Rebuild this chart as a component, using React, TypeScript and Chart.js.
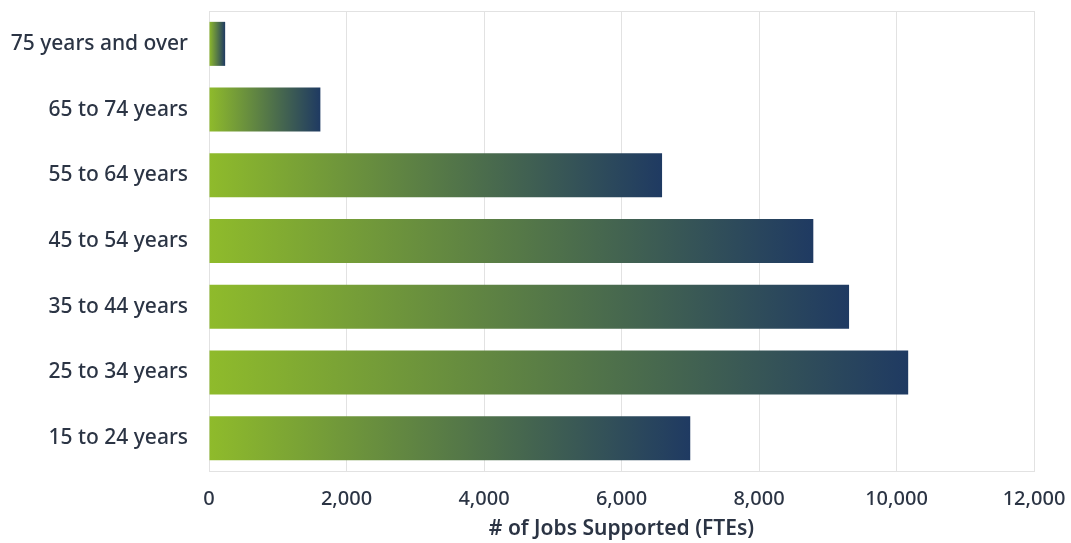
import React, { useEffect, useRef } from "react";
import { Chart, registerables } from "chart.js";

Chart.register(...registerables);

const ageGroups = [
  "75 years and over",
  "65 to 74 years",
  "55 to 64 years",
  "45 to 54 years",
  "35 to 44 years",
  "25 to 34 years",
  "15 to 24 years",
];
const jobsSupported = [235, 1620, 6590, 8790, 9310, 10170, 7000];
const xTickValues = [0, 2000, 4000, 6000, 8000, 10000, 12000];
const xAxisTitle = "# of Jobs Supported (FTEs)";

const GREEN = "#8fbb2b";
const NAVY = "#1f3a62";
const TEXT = "#2b3444";
const GRID = "#e2e2e2";
const FONT = "'Noto Sans', sans-serif";

const frame = {
  id: "frame",
  afterDraw(chart: any) {
    const { ctx, chartArea } = chart;
    ctx.save();
    ctx.strokeStyle = GRID;
    ctx.lineWidth = 1;
    ctx.beginPath();
    ctx.moveTo(chartArea.left, chartArea.top + 0.5);
    ctx.lineTo(chartArea.right, chartArea.top + 0.5);
    ctx.stroke();
    ctx.restore();
  },
};

export default function App() {
  const ref = useRef<HTMLCanvasElement>(null);
  useEffect(() => {
    if (!ref.current) return;
    const chart = new Chart(ref.current, {
      type: "bar",
      data: {
        labels: ageGroups,
        datasets: [
          {
            data: jobsSupported,
            barPercentage: 0.67,
            categoryPercentage: 1,
            backgroundColor: (c: any) => {
              const ch = c.chart;
              const xs = ch.scales?.x;
              if (!ch.chartArea || !xs) return GREEN;
              const x0 = xs.getPixelForValue(0);
              const x1 = xs.getPixelForValue(c.raw as number);
              const g = ch.ctx.createLinearGradient(x0, 0, Math.max(x1, x0 + 1), 0);
              g.addColorStop(0, GREEN);
              g.addColorStop(1, NAVY);
              return g;
            },
          },
        ],
      },
      options: {
        indexAxis: "y",
        animation: false,
        responsive: false,
        maintainAspectRatio: false,
        layout: { padding: 0 },
        plugins: { legend: { display: false }, tooltip: { enabled: false } },
        scales: {
          x: {
            min: 0,
            max: 12000,
            afterBuildTicks: (s: any) => {
              s.ticks = xTickValues.map((v) => ({ value: v }));
            },
            afterFit: (s: any) => {
              s.height = 72;
              s.paddingLeft = 0;
              s.paddingRight = 37;
            },
            grid: { color: GRID, drawTicks: false, lineWidth: 1 },
            border: { display: true, color: GRID },
            ticks: {
              color: TEXT,
              padding: 16,
              font: { family: FONT, size: 20, weight: "500" },
              callback: (v: any) => Number(v).toLocaleString("en-US"),
            },
            title: {
              display: true,
              text: xAxisTitle,
              color: TEXT,
              font: { family: FONT, size: 21, weight: "600" },
              padding: { top: 0, bottom: 1 },
            },
          },
          y: {
            afterFit: (s: any) => {
              s.width = 209;
              s.paddingTop = 11;
              s.paddingBottom = 0;
            },
            grid: { display: false, drawTicks: false },
            border: { display: true, color: GRID },
            ticks: {
              color: TEXT,
              padding: 21,
              font: { family: FONT, size: 21, weight: "500" },
            },
          },
        },
      },
      plugins: [frame],
    });
    return () => chart.destroy();
  }, []);
  return (
    <div style={{ position: "fixed", left: 0, top: 0, width: 1071, height: 543, background: "#fff" }}>
      <canvas ref={ref} width={1071} height={543} style={{ width: 1071, height: 543, display: "block" }} />
    </div>
  );
}
